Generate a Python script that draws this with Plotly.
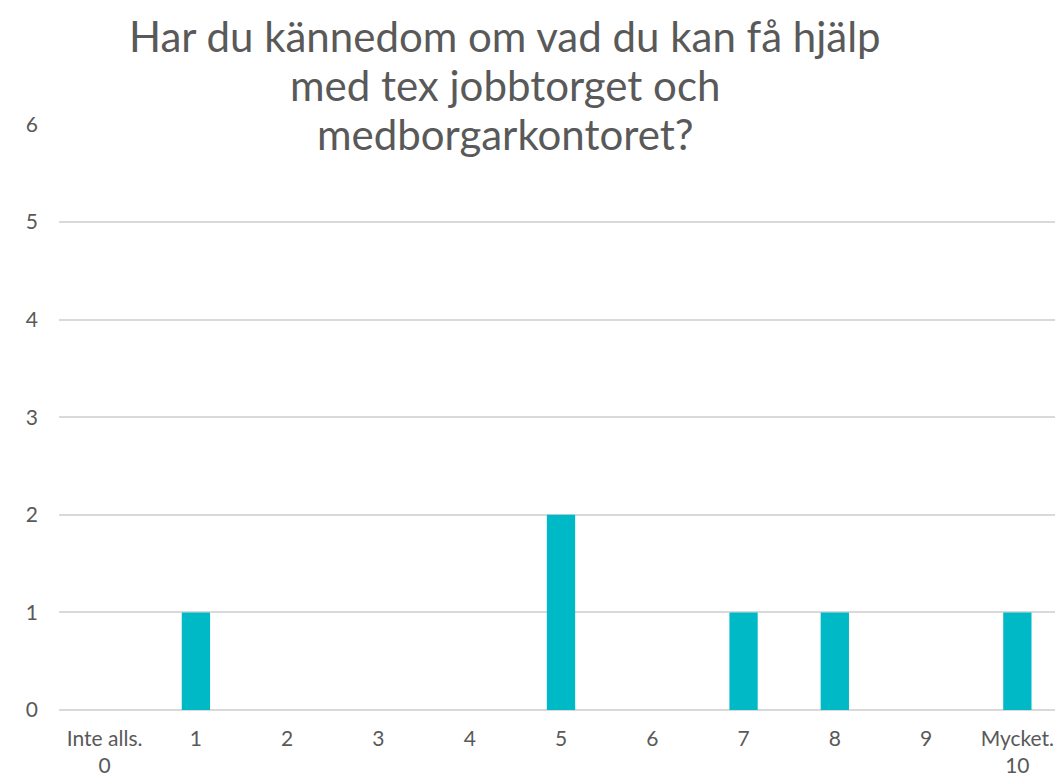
import plotly.graph_objects as go

categories = ["Inte alls.<br>0", "1", "2", "3", "4", "5", "6", "7", "8", "9", "Mycket.<br>10"]
values = [0, 1, 0, 0, 0, 2, 0, 1, 1, 0, 1]
y_ticks = [0, 1, 2, 3, 4, 5, 6]
title_lines = ["Har du kännedom om vad du kan få hjälp", "med tex jobbtorget och", "medborgarkontoret?"]

# page has an 8px body margin, so the figure is shifted by 8px right/down
W, H = 1055, 771
ML, MR, MT, MB = 51, 0, 116, 69
plot_h = H - MT - MB

fig = go.Figure(go.Bar(
    x=categories, y=values,
    marker=dict(color="#00B9C6", line=dict(width=0)),
    width=0.31,
))

# title lines (page y centers)
line_centers = [36, 85, 134]
for txt, cy in zip(title_lines, line_centers):
    fy = cy - 8
    fig.add_annotation(
        text=txt, xref="paper", yref="paper",
        x=(497 - ML) / (W - ML - MR), y=(H - MB - fy) / plot_h,
        xanchor="center", yanchor="middle", showarrow=False,
        font=dict(size=42, color="#595959", family="Lato, sans-serif"),
    )

fig.update_layout(
    width=W, height=H,
    paper_bgcolor="white", plot_bgcolor="white",
    margin=dict(l=ML, r=MR, t=MT, b=MB, autoexpand=False),
    font=dict(family="Lato, sans-serif", color="#595959", size=21),
    showlegend=False,
)
fig.update_xaxes(showgrid=False, showline=False, ticks="", tickfont=dict(size=21),
                 ticklabelstandoff=14)
fig.update_yaxes(range=[0, 6.005], tickvals=y_ticks, showgrid=True, gridcolor="#D9D9D9",
                 gridwidth=1.5, zeroline=True, zerolinecolor="#D9D9D9", zerolinewidth=1.5,
                 showline=False, ticks="", ticklabelstandoff=20, tickfont=dict(size=21))

fig.write_html("out.html")
